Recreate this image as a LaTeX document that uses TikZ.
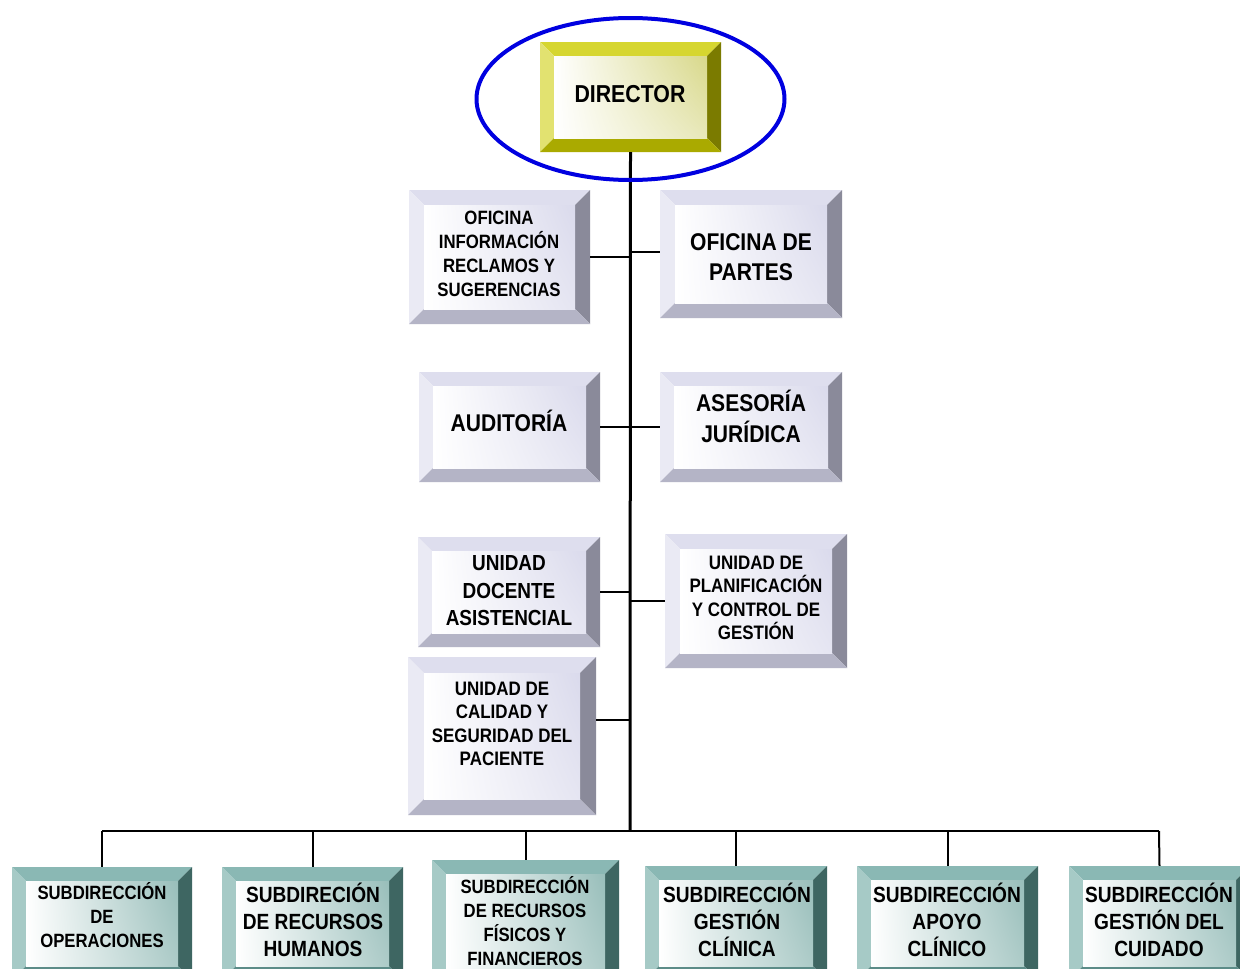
\documentclass[tikz,border=0pt]{standalone}
\usepackage{fontspec}
\setmainfont{Liberation Sans}[FakeStretch=0.87]
\usetikzlibrary{shadings}
\definecolor{ytopc}{HTML}{D6D630}
\definecolor{yleftc}{HTML}{E2E270}
\definecolor{yrightc}{HTML}{7B7B00}
\definecolor{ybotc}{HTML}{AAAA00}
\definecolor{yface}{HTML}{D8D88A}
\definecolor{gtopc}{HTML}{DEDEEE}
\definecolor{gleftc}{HTML}{EAEAF4}
\definecolor{grightc}{HTML}{8A8A9A}
\definecolor{gbotc}{HTML}{B4B4C6}
\definecolor{gface}{HTML}{DADAEC}
\definecolor{ttopc}{HTML}{8AB8B4}
\definecolor{tleftc}{HTML}{A6CAC6}
\definecolor{trightc}{HTML}{3E6662}
\definecolor{tbotc}{HTML}{5C8C88}
\definecolor{tface}{HTML}{98BEBA}
\definecolor{ringblue}{HTML}{0000E0}
\tikzset{
  ytop/.style={fill=ytopc}, yleft/.style={fill=yleftc}, yright/.style={fill=yrightc}, ybot/.style={fill=ybotc},
  yfc/.style={upper left=white, lower left=white, upper right=yface, lower right=yface!60!white},
  gtop/.style={fill=gtopc}, gleft/.style={fill=gleftc}, gright/.style={fill=grightc}, gbot/.style={fill=gbotc},
  gfc/.style={upper left=white, lower left=white, upper right=gface, lower right=gface!70!white},
  ttop/.style={fill=ttopc}, tleft/.style={fill=tleftc}, tright/.style={fill=trightc}, tbot/.style={fill=tbotc},
  tfc/.style={upper left=white, lower left=white, upper right=tface, lower right=tface!80!white},
  txt/.style={align=center, inner sep=0pt},
  conn/.style={line width=2pt, black},
  trunkline/.style={line width=3pt, black}
}
% name, x1, y1, x2, y2, palette, bevel
\newcommand\bevbox[7]{%
  \fill[#6top] (#2,#3) -- (#4,#3) -- (#4-#7,#3+#7) -- (#2+#7,#3+#7) -- cycle;
  \fill[#6left] (#2,#3) -- (#2+#7,#3+#7) -- (#2+#7,#5-#7) -- (#2,#5) -- cycle;
  \fill[#6right] (#4,#3) -- (#4,#5) -- (#4-#7,#5-#7) -- (#4-#7,#3+#7) -- cycle;
  \fill[#6bot] (#2,#5) -- (#4,#5) -- (#4-#7,#5-#7) -- (#2+#7,#5-#7) -- cycle;
  \shade[#6fc] (#2+#7,#3+#7) rectangle (#4-#7,#5-#7);
  \node[inner sep=0pt, minimum width={(#4-#2)*1pt}, minimum height={(#5-#3)*1pt}] (#1) at ({(#2+#4)/2},{(#3+#5)/2}) {};
}
\newcommand\fs[2]{\bfseries\fontsize{#1}{#2}\selectfont}
\begin{document}
\begin{tikzpicture}[x=1pt,y=-1pt]
\useasboundingbox (0,0) rectangle (1240,969);
\fill[white] (0,0) rectangle (1240,969);
\clip (0,0) rectangle (1240,969);

% boxes
\bevbox{dir}{540}{42}{721}{152}{y}{14}
\bevbox{oirs}{409}{190}{590}{324}{g}{15}
\bevbox{partes}{660}{190}{842}{318}{g}{15}
\bevbox{aud}{419}{372}{600}{482}{g}{14}
\bevbox{ases}{660}{372}{842}{482}{g}{14}
\bevbox{uda}{418}{537}{600}{647}{g}{14}
\bevbox{upcg}{665}{534}{847}{668}{g}{15}
\bevbox{ucsp}{408}{657}{596}{815}{g}{16}
\bevbox{bA}{12}{867}{192}{980}{t}{14}
\bevbox{bB}{222}{867}{403}{980}{t}{14}
\bevbox{bC}{432}{860}{619}{985}{t}{14}
\bevbox{bD}{645}{866}{827}{980}{t}{14}
\bevbox{bE}{857}{866}{1038}{980}{t}{14}
\bevbox{bF}{1069}{866}{1250}{980}{t}{14}

% texts
\node[txt, font=\fs{24.5}{28}] (dir-t) at (630,94) {DIRECTOR};
\node[txt, font=\fs{19.3}{24}] (oirs-t) at (499,254) {OFICINA\\INFORMACIÓN\\RECLAMOS Y\\SUGERENCIAS};
\node[txt, font=\fs{24.2}{30}] (partes-t) at (751,257) {OFICINA DE\\PARTES};
\node[txt, font=\fs{24.2}{30}] (aud-t) at (509,421) {AUDITORÍA};
\node[txt, font=\fs{24.2}{31}] (ases-t) at (751,416) {ASESORÍA\\JURÍDICA};
\node[txt, font=\fs{21.8}{27.5}] (uda-t) at (509,591) {UNIDAD\\DOCENTE\\ASISTENCIAL};
\node[txt, font=\fs{19.5}{23.5}] (upcg-t) at (756,598) {UNIDAD DE\\PLANIFICACIÓN\\Y CONTROL DE\\GESTIÓN};
\node[txt, font=\fs{19.5}{23.5}] (ucsp-t) at (502,724) {UNIDAD DE\\CALIDAD Y\\SEGURIDAD DEL\\PACIENTE};
\node[txt, font=\fs{19.2}{24}] (bA-t) at (102,915) {SUBDIRECCIÓN\\DE\\OPERACIONES};
\node[txt, font=\fs{22}{27}] (bB-t) at (313,920) {SUBDIRECIÓN\\DE RECURSOS\\HUMANOS};
\node[txt, font=\fs{19.2}{24}] (bC-t) at (525,921) {SUBDIRECCIÓN\\DE RECURSOS\\FÍSICOS Y\\FINANCIEROS};
\node[txt, font=\fs{22}{27}] (bD-t) at (737,920) {SUBDIRECCIÓN\\GESTIÓN\\CLÍNICA};
\node[txt, font=\fs{22}{27}] (bE-t) at (947,920) {SUBDIRECCIÓN\\APOYO\\CLÍNICO};
\node[txt, font=\fs{22}{27}] (bF-t) at (1159,920) {SUBDIRECCIÓN\\GESTIÓN DEL\\CUIDADO};

% junction coordinates
\coordinate (jbus) at (630,831);
\coordinate (j1) at (630,257);
\coordinate (j2) at (630,252);
\coordinate (j3) at (630,427);
\coordinate (j4) at (630,592);
\coordinate (j5) at (630,601);
\coordinate (j6) at (630,720);
\coordinate (busL) at (102,831);
\coordinate (busR) at (1159,831);

% connectors
\draw[conn] (oirs.east |- j1) -- (j1);
\draw[conn] (j2) -- (partes.west |- j2);
\draw[conn] (aud.east |- j3) -- (j3) -- (ases.west |- j3);
\draw[conn] (uda.east |- j4) -- (j4);
\draw[conn] (j5) -- (upcg.west |- j5);
\draw[conn] (ucsp.east |- j6) -- (j6);
\draw[conn] (busL) -- (busR);
\draw[conn] (busL) -- (bA.north);
\draw[conn] (bB.north |- jbus) -- (bB.north);
\draw[conn] (bC.north |- jbus) -- (bC.north);
\draw[conn] (bD.north |- jbus) -- (bD.north);
\draw[conn] (bE.north |- jbus) -- (bE.north);
\draw[conn] (busR) -- (bF.north);
\draw[trunkline] (dir.south) -- (jbus);

% ring around director
\draw[ringblue, line width=4pt] (dir.center) ++(0,2) ellipse [x radius=154, y radius=81];
\end{tikzpicture}
\end{document}
